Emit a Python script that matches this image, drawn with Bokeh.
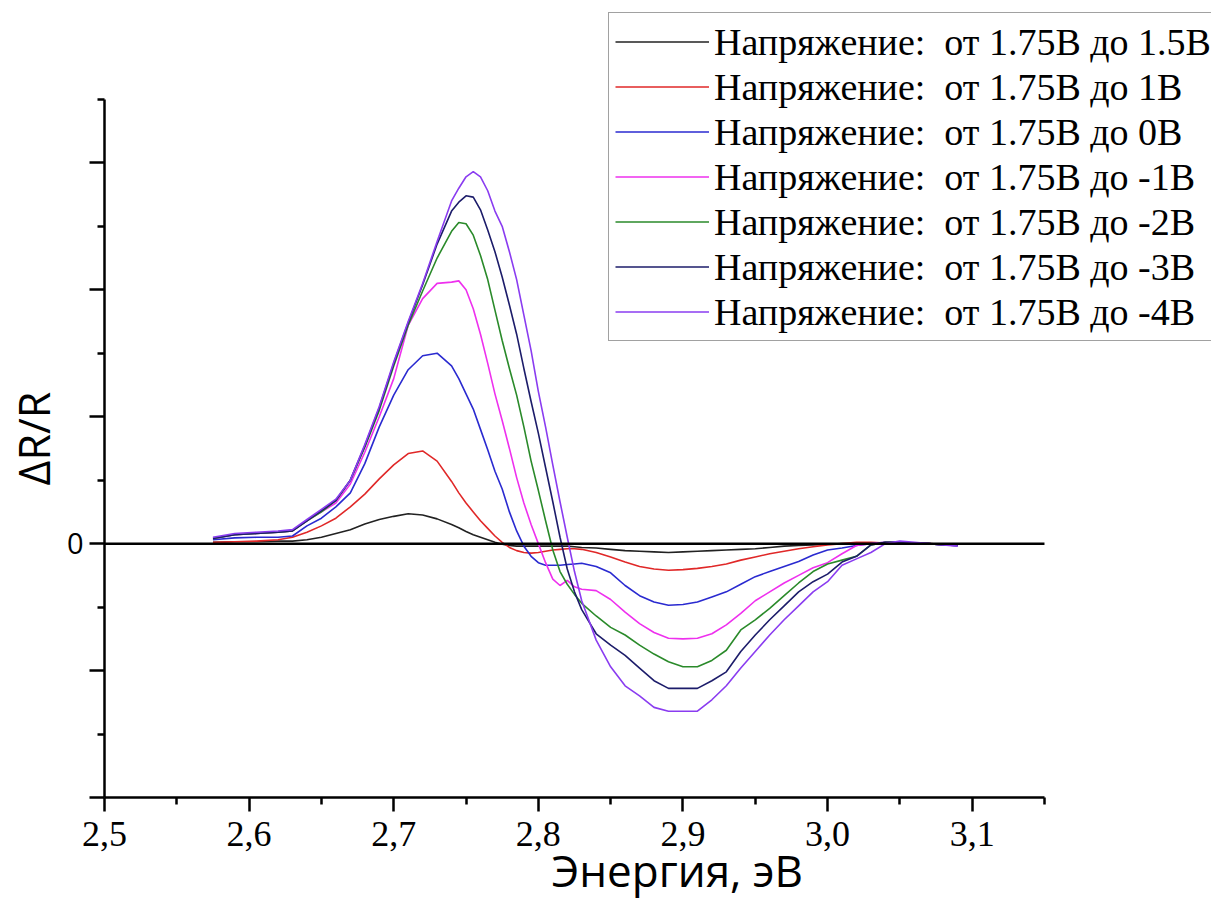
from bokeh.plotting import figure
from bokeh.models import (FixedTicker, Legend, LegendItem, Range1d, Title)
from bokeh.embed import file_html
from bokeh.resources import INLINE

# ---------------- data ----------------
energy = [2.575, 2.59, 2.605, 2.62, 2.63, 2.64, 2.65, 2.66, 2.67, 2.68,
          2.69, 2.70, 2.71, 2.72, 2.73, 2.74, 2.745, 2.75, 2.755, 2.76,
          2.765, 2.77, 2.775, 2.78, 2.785, 2.79, 2.795, 2.80, 2.805, 2.81,
          2.815, 2.82, 2.825, 2.83, 2.84, 2.85, 2.86, 2.87, 2.88, 2.89,
          2.90, 2.91, 2.92, 2.93, 2.94, 2.95, 2.96, 2.97, 2.98, 2.99,
          3.00, 3.01, 3.02, 3.03, 3.04, 3.05, 3.06, 3.07, 3.08, 3.09]

dr_to_1_5 = [0.01, 0.015, 0.015, 0.02, 0.02, 0.03, 0.05, 0.08, 0.11, 0.155,
             0.19, 0.215, 0.235, 0.225, 0.195, 0.15, 0.125, 0.095, 0.07, 0.05,
             0.03, 0.01, -0.005, -0.015, -0.02, -0.02, -0.02, -0.02, -0.02, -0.02,
             -0.02, -0.02, -0.025, -0.03, -0.035, -0.045, -0.055, -0.06, -0.065, -0.07,
             -0.065, -0.06, -0.055, -0.05, -0.045, -0.04, -0.03, -0.02, -0.015, -0.01,
             -0.005, 0.0, 0.0, 0.005, 0.005, 0.0, 0.0, 0.0, -0.005, -0.01]

dr_to_1 = [0.01, 0.015, 0.02, 0.03, 0.05, 0.09, 0.14, 0.2, 0.29, 0.39,
           0.51, 0.62, 0.71, 0.73, 0.65, 0.49, 0.40, 0.32, 0.25, 0.18,
           0.12, 0.06, 0.01, -0.03, -0.055, -0.07, -0.075, -0.07, -0.06, -0.05,
           -0.045, -0.04, -0.04, -0.045, -0.07, -0.105, -0.145, -0.18, -0.2, -0.21,
           -0.205, -0.195, -0.18, -0.16, -0.13, -0.105, -0.08, -0.06, -0.04, -0.025,
           -0.01, 0.0, 0.01, 0.01, 0.005, 0.005, 0.0, 0.0, -0.005, -0.01]

dr_to_0 = [0.03, 0.045, 0.05, 0.05, 0.06, 0.14, 0.2, 0.29, 0.4, 0.63,
           0.92, 1.17, 1.37, 1.48, 1.50, 1.40, 1.30, 1.18, 1.06, 0.90,
           0.74, 0.57, 0.43, 0.25, 0.1, -0.02, -0.1, -0.15, -0.17, -0.17,
           -0.17, -0.165, -0.16, -0.155, -0.18, -0.23, -0.33, -0.41, -0.46, -0.485,
           -0.48, -0.46, -0.42, -0.38, -0.32, -0.26, -0.22, -0.18, -0.14, -0.09,
           -0.05, -0.035, -0.015, 0.0, 0.01, 0.01, 0.005, 0.0, -0.01, -0.015]

dr_to_m1 = [0.04, 0.07, 0.08, 0.09, 0.1, 0.18, 0.25, 0.32, 0.47, 0.72,
            1.0, 1.30, 1.72, 1.93, 2.05, 2.06, 2.07, 2.0, 1.85, 1.65,
            1.42, 1.18, 0.97, 0.75, 0.52, 0.32, 0.15, 0.0, -0.15, -0.28,
            -0.33, -0.29, -0.34, -0.36, -0.37, -0.44, -0.54, -0.63, -0.70, -0.745,
            -0.75, -0.745, -0.71, -0.64, -0.55, -0.45, -0.38, -0.31, -0.25, -0.19,
            -0.15, -0.08, -0.015, 0.0, 0.01, 0.01, 0.0, 0.0, -0.01, -0.015]

dr_to_m2 = [0.04, 0.07, 0.08, 0.09, 0.1, 0.18, 0.25, 0.34, 0.5, 0.76,
            1.05, 1.4, 1.72, 1.99, 2.25, 2.46, 2.53, 2.52, 2.43, 2.27,
            2.08, 1.84, 1.6, 1.38, 1.17, 0.92, 0.65, 0.42, 0.18, -0.05,
            -0.22, -0.32, -0.40, -0.47, -0.57, -0.66, -0.72, -0.80, -0.87, -0.93,
            -0.97, -0.97, -0.92, -0.84, -0.68, -0.60, -0.51, -0.41, -0.31, -0.22,
            -0.16, -0.13, -0.1, -0.01, 0.01, 0.01, 0.005, 0.0, -0.01, -0.015]

dr_to_m3 = [0.04, 0.07, 0.08, 0.09, 0.1, 0.18, 0.26, 0.34, 0.5, 0.77,
            1.07, 1.42, 1.74, 2.04, 2.36, 2.62, 2.69, 2.74, 2.73, 2.63,
            2.47, 2.30, 2.1, 1.88, 1.65, 1.38, 1.12, 0.87, 0.6, 0.33,
            0.05, -0.2, -0.38, -0.52, -0.71, -0.80, -0.88, -0.98, -1.08, -1.14,
            -1.14, -1.14, -1.08, -1.01, -0.85, -0.72, -0.60, -0.49, -0.38, -0.30,
            -0.24, -0.145, -0.1, -0.01, 0.01, 0.01, 0.005, 0.0, -0.01, -0.015]

dr_to_m4 = [0.05, 0.08, 0.09, 0.1, 0.11, 0.19, 0.27, 0.35, 0.5, 0.78,
            1.08, 1.43, 1.75, 2.05, 2.38, 2.7, 2.80, 2.89, 2.93, 2.89,
            2.78, 2.62, 2.5, 2.3, 2.08, 1.8, 1.52, 1.2, 0.92, 0.62,
            0.33, 0.05, -0.22, -0.45, -0.76, -0.97, -1.12, -1.20, -1.29, -1.32,
            -1.32, -1.32, -1.23, -1.12, -0.98, -0.85, -0.72, -0.60, -0.49, -0.38,
            -0.30, -0.17, -0.12, -0.07, 0.0, 0.02, 0.01, 0.0, -0.01, -0.02]

series_values = [dr_to_1_5, dr_to_1, dr_to_0, dr_to_m1, dr_to_m2, dr_to_m3, dr_to_m4]
series_labels = ["Напряжение:  от 1.75В до 1.5В",
                 "Напряжение:  от 1.75В до 1В",
                 "Напряжение:  от 1.75В до 0В",
                 "Напряжение:  от 1.75В до -1В",
                 "Напряжение:  от 1.75В до -2В",
                 "Напряжение:  от 1.75В до -3В",
                 "Напряжение:  от 1.75В до -4В"]
series_colors = ["#222222", "#e02828", "#2a2ad0", "#ee30ee", "#2a8a2a", "#1c1c6a", "#8a3cf0"]

x_bounds = (2.5, 3.15)
y_bounds = (-2.0, 3.5)
x_ticks = [2.5, 2.6, 2.7, 2.8, 2.9, 3.0, 3.1]
x_tick_labels = ["2,5", "2,6", "2,7", "2,8", "2,9", "3,0", "3,1"]
x_minor = [2.55, 2.65, 2.75, 2.85, 2.95, 3.05, 3.15]
y_ticks = [-2, -1, 0, 1, 2, 3]
y_tick_labels = ["", "", "0", "", "", ""]
y_minor = [-1.5, -0.5, 0.5, 1.5, 2.5, 3.5]

x_title = "Энергия, эВ"
y_title = "ΔR/R"

# ---------------- figure ----------------
p = figure(width=1211, height=909, output_backend="svg", toolbar_location=None,
           x_range=Range1d(2.5, 3.2655), y_range=Range1d(-2, 4.2),
           min_border_left=101, min_border_right=0,
           min_border_top=10, min_border_bottom=112)
p.grid.visible = False
p.outline_line_color = None
p.background_fill_color = "white"
p.border_fill_color = "white"

renderers = []
for vals, col in zip(series_values, series_colors):
    r = p.line(energy, vals, line_color=col, line_width=1.6)
    renderers.append(r)

# zero baseline across the axis extent
p.line(list(x_bounds), [0, 0], line_color="black", line_width=2.5)


def overrides(ticks, labels):
    d = {}
    for t, lab in zip(ticks, labels):
        d[float(t)] = lab
        d[str(t)] = lab
    return d


xa = p.xaxis[0]
xa.bounds = x_bounds
xa.ticker = FixedTicker(ticks=x_ticks, minor_ticks=x_minor)
xa.major_label_overrides = overrides(x_ticks, x_tick_labels)
xa.axis_line_width = 2.5
xa.major_tick_line_width = 2.5
xa.minor_tick_line_width = 2.5
xa.major_tick_out = 14
xa.major_tick_in = 0
xa.minor_tick_out = 7
xa.minor_tick_in = 0
xa.major_label_text_font = "Liberation Serif"
xa.major_label_text_font_size = "36px"
xa.major_label_text_font_style = "normal"
xa.major_label_text_color = "black"
xa.major_label_standoff = 10

ya = p.yaxis[0]
ya.bounds = y_bounds
ya.ticker = FixedTicker(ticks=y_ticks, minor_ticks=y_minor)
ya.major_label_overrides = overrides(y_ticks, y_tick_labels)
ya.axis_line_width = 2.5
ya.major_tick_line_width = 2.5
ya.minor_tick_line_width = 2.5
ya.major_tick_out = 15
ya.major_tick_in = 0
ya.minor_tick_out = 7
ya.minor_tick_in = 0
ya.major_label_text_font = "Open Sans"
ya.major_label_text_font_size = "29px"
ya.major_label_text_font_style = "normal"
ya.major_label_text_color = "black"
ya.major_label_standoff = 6

p.add_layout(Title(text=x_title, align="left", offset=447, standoff=-21,
                   text_font="Open Sans", text_font_size="44px",
                   text_font_style="normal", text_color="black"), "below")
p.add_layout(Title(text=y_title, align="left", offset=312, standoff=2,
                   text_font="Open Sans", text_font_size="43px",
                   text_font_style="normal", text_color="black"), "left")

items = [LegendItem(label=lab, renderers=[r]) for lab, r in zip(series_labels, renderers)]
legend = Legend(items=items, location=(504, 456))
legend.label_text_font = "Liberation Serif"
legend.label_text_font_size = "38px"
legend.label_text_color = "black"
legend.label_height = 45
legend.glyph_height = 45
legend.glyph_width = 94
legend.label_width = 500
legend.label_standoff = 5
legend.spacing = 0
legend.padding = 6
legend.margin = 0
legend.border_line_color = "#444444"
legend.border_line_width = 1.5
legend.background_fill_color = "white"
legend.background_fill_alpha = 1.0
p.add_layout(legend)

open("out.html", "w").write(file_html(p, INLINE))
